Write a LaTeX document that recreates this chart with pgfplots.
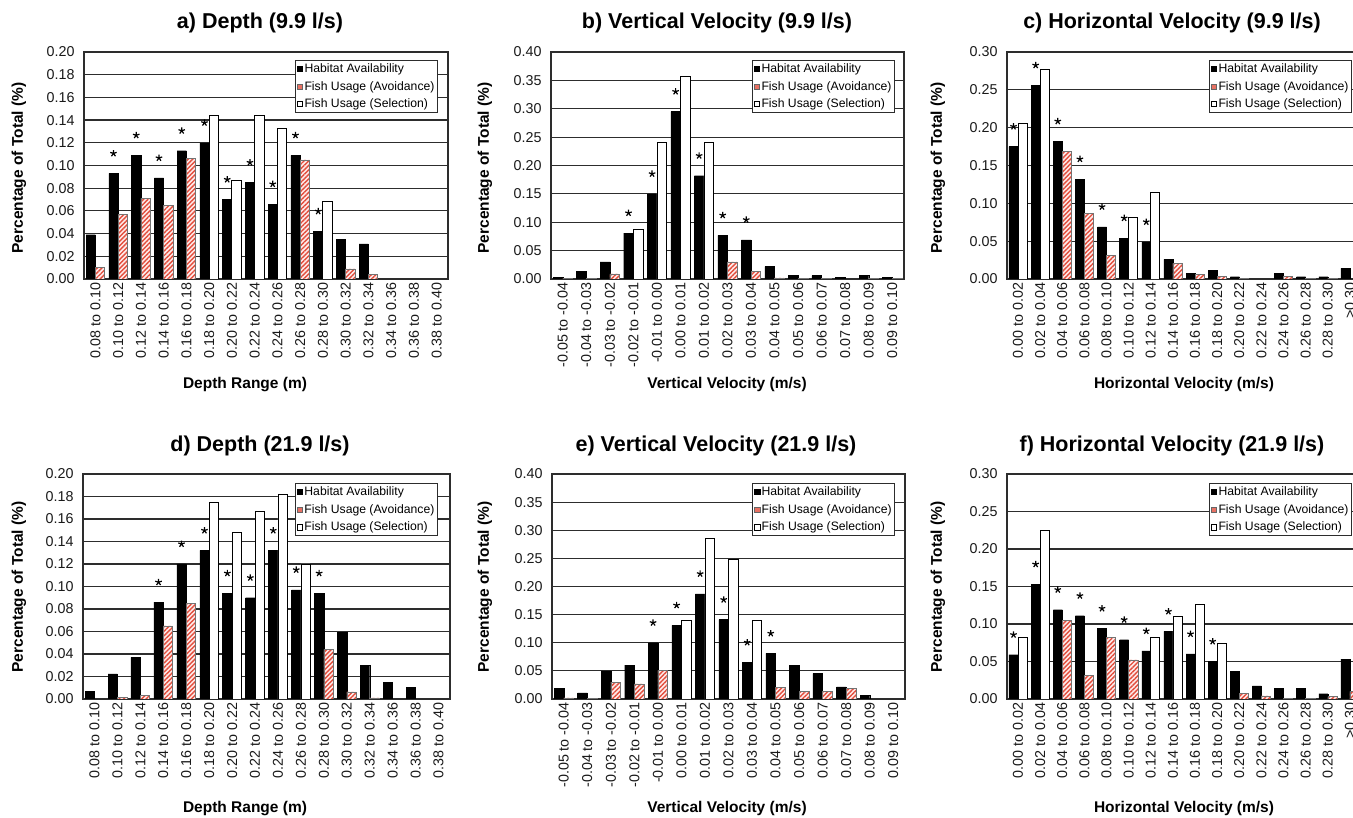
\documentclass[border=0pt]{standalone}
\usepackage{pgfplots}
\pgfplotsset{compat=1.18}
\usepackage{fontspec}
\setmainfont{Liberation Sans}
\usetikzlibrary{patterns.meta}
\definecolor{myred}{RGB}{226,78,60}
\definecolor{gridc}{RGB}{45,45,45}
\newcommand{\tf}{\fontsize{21.5}{24}\selectfont\bfseries}
\newcommand{\lf}{\fontsize{15.5}{18}\selectfont\bfseries}
\pgfplotsset{
  panel/.style={
    scale only axis, anchor=south west, ymin=0,
    axis line style={draw=gridc, line width=1.2pt},
    ymajorgrids, major grid style={draw=gridc, line width=1.2pt},
    tick style={draw=none},
    yticklabel style={font=\fontsize{14.3}{14}\selectfont, xshift=-6pt, text=black!90},
    xticklabel style={font=\fontsize{14.3}{14}\selectfont, rotate=90, anchor=east, text=black!90},
    legend image code/.code={\draw[##1, line width=0.6pt] (0pt,-2.6pt) rectangle (5.2pt,2.6pt);},
    legend style={font=\fontsize{12.2}{14}\selectfont, draw=gridc, line width=1pt, fill=white,
      anchor=north east, inner xsep=1.5pt, inner ysep=2pt, row sep=4.2pt,
      nodes={inner sep=1.5pt}, cells={anchor=west}},
  },
  blackbar/.style={ybar, bar width=0.41, bar shift=-0.205, fill=black, draw=black, line width=0.4pt, forget plot},
  redbar/.style={ybar, bar width=0.41, bar shift=0.205, fill=red!8, draw=black!55, line width=0.5pt, forget plot,
    postaction={pattern={Lines[angle=45,distance=3.2pt,line width=1.4pt]}, pattern color=myred}},
  whitebar/.style={ybar, bar width=0.41, bar shift=0.205, fill=white, draw=black, line width=0.8pt, forget plot},
  stars/.style={only marks, mark=star, mark size=3.4pt, line width=1.2pt, black, forget plot,
    mark options={yshift=20pt}, x filter/.expression={x-0.205}},
  legs/.code={
    \addlegendimage{fill=black, draw=black}\addlegendentry{Habitat Availability}
    \addlegendimage{fill=myred!80, draw=black!60}\addlegendentry{Fish Usage (Avoidance)}
    \addlegendimage{fill=white, draw=black}\addlegendentry{Fish Usage (Selection)}
  },
}
\def\depthlabels{0.08 to 0.10,0.10 to 0.12,0.12 to 0.14,0.14 to 0.16,0.16 to 0.18,0.18 to 0.20,0.20 to 0.22,0.22 to 0.24,0.24 to 0.26,0.26 to 0.28,0.28 to 0.30,0.30 to 0.32,0.32 to 0.34,0.34 to 0.36,0.36 to 0.38,0.38 to 0.40}
\def\vertlabels{-0.05 to -0.04,-0.04 to -0.03,-0.03 to -0.02,-0.02 to -0.01,-0.01 to 0.00,0.00 to 0.01,0.01 to 0.02,0.02 to 0.03,0.03 to 0.04,0.04 to 0.05,0.05 to 0.06,0.06 to 0.07,0.07 to 0.08,0.08 to 0.09,0.09 to 0.10}
\def\horlabels{0.00 to 0.02,0.02 to 0.04,0.04 to 0.06,0.06 to 0.08,0.08 to 0.10,0.10 to 0.12,0.12 to 0.14,0.14 to 0.16,0.16 to 0.18,0.18 to 0.20,0.20 to 0.22,0.22 to 0.24,0.24 to 0.26,0.26 to 0.28,0.28 to 0.30,>0.30}
\begin{document}
\begin{tikzpicture}
\useasboundingbox (0,0) rectangle (1353pt,818pt);
\clip (0,0) rectangle (1353pt,818pt);

% ---------- a) Depth 9.9
\begin{axis}[panel, at={(84pt,539pt)}, width=364pt, height=227pt,
  xmin=-0.5, xmax=15.5, ymax=0.20,
  ytick={0,0.02,0.04,0.06,0.08,0.10,0.12,0.14,0.16,0.18,0.20},
  yticklabels={0.00,0.02,0.04,0.06,0.08,0.10,0.12,0.14,0.16,0.18,0.20},
  xtick={0,...,15}, xticklabels/.expand once=\depthlabels,
  legend style={at={(0.9725,0.965)}}]
\pgfplotsset{legs}
\addplot[blackbar] coordinates {(0,0.039)(1,0.093)(2,0.109)(3,0.089)(4,0.113)(5,0.120)(6,0.070)(7,0.085)(8,0.066)(9,0.109)(10,0.042)(11,0.035)(12,0.031)};
\addplot[redbar] coordinates {(0,0.010)(1,0.057)(2,0.071)(3,0.065)(4,0.106)(9,0.105)(11,0.009)(12,0.004)};
\addplot[whitebar] coordinates {(5,0.144)(6,0.087)(7,0.144)(8,0.133)(10,0.068)};
\addplot[stars] coordinates {(1,0.093)(2,0.109)(3,0.089)(4,0.113)(5,0.120)(6,0.070)(7,0.085)(8,0.066)(9,0.109)(10,0.042)};
\end{axis}

% ---------- b) Vertical 9.9
\begin{axis}[panel, at={(551pt,539pt)}, width=353pt, height=227pt,
  xmin=-0.5, xmax=14.5, ymax=0.40,
  ytick={0,0.05,0.10,0.15,0.20,0.25,0.30,0.35,0.40},
  yticklabels={0.00,0.05,0.10,0.15,0.20,0.25,0.30,0.35,0.40},
  xtick={0,...,14}, xticklabels/.expand once=\vertlabels,
  legend style={at={(0.9745,0.965)}}]
\pgfplotsset{legs}
\addplot[blackbar] coordinates {(0,0.003)(1,0.014)(2,0.030)(3,0.081)(4,0.150)(5,0.295)(6,0.182)(7,0.077)(8,0.069)(9,0.022)(10,0.006)(11,0.006)(12,0.003)(13,0.007)(14,0.003)};
\addplot[redbar] coordinates {(0,0.001)(1,0.001)(2,0.009)(7,0.030)(8,0.013)(9,0.002)(10,0.001)(11,0.001)(13,0.001)(14,0.001)};
\addplot[whitebar] coordinates {(3,0.088)(4,0.241)(5,0.357)(6,0.241)};
\addplot[stars] coordinates {(3,0.081)(4,0.150)(5,0.295)(6,0.182)(7,0.077)(8,0.069)};
\end{axis}

% ---------- c) Horizontal 9.9
\begin{axis}[panel, at={(1007pt,539pt)}, width=354pt, height=227pt,
  xmin=-0.5, xmax=15.5, ymax=0.30,
  ytick={0,0.05,0.10,0.15,0.20,0.25,0.30},
  yticklabels={0.00,0.05,0.10,0.15,0.20,0.25,0.30},
  xtick={0,...,15}, xticklabels/.expand once=\horlabels,
  legend style={at={(0.9746,0.965)}}]
\pgfplotsset{legs}
\addplot[blackbar] coordinates {(0,0.175)(1,0.256)(2,0.182)(3,0.132)(4,0.069)(5,0.054)(6,0.049)(7,0.026)(8,0.007)(9,0.011)(10,0.003)(12,0.007)(13,0.003)(14,0.003)(15,0.014)};
\addplot[redbar] coordinates {(2,0.169)(3,0.0865)(4,0.031)(7,0.021)(8,0.006)(9,0.003)(10,0.001)(12,0.003)(13,0.001)(14,0.001)};
\addplot[whitebar] coordinates {(0,0.205)(1,0.277)(5,0.081)(6,0.114)};
\addplot[stars] coordinates {(0,0.175)(1,0.256)(2,0.182)(3,0.132)(4,0.069)(5,0.054)(6,0.049)};
\end{axis}

% ---------- d) Depth 21.9
\begin{axis}[panel, at={(83pt,119pt)}, width=367pt, height=225pt,
  xmin=-0.5, xmax=15.5, ymax=0.20,
  ytick={0,0.02,0.04,0.06,0.08,0.10,0.12,0.14,0.16,0.18,0.20},
  yticklabels={0.00,0.02,0.04,0.06,0.08,0.10,0.12,0.14,0.16,0.18,0.20},
  xtick={0,...,15}, xticklabels/.expand once=\depthlabels,
  legend style={at={(0.967,0.96)}}]
\pgfplotsset{legs}
\addplot[blackbar] coordinates {(0,0.007)(1,0.0224)(2,0.037)(3,0.086)(4,0.120)(5,0.132)(6,0.094)(7,0.090)(8,0.132)(9,0.097)(10,0.094)(11,0.059)(12,0.030)(13,0.015)(14,0.0105)};
\addplot[redbar] coordinates {(1,0.0015)(2,0.003)(3,0.065)(4,0.085)(10,0.044)(11,0.0063)(12,0.001)};
\addplot[whitebar] coordinates {(5,0.175)(6,0.148)(7,0.167)(8,0.182)(9,0.120)};
\addplot[stars] coordinates {(3,0.086)(4,0.120)(5,0.132)(6,0.094)(7,0.090)(8,0.132)(9,0.097)(10,0.094)};
\end{axis}

% ---------- e) Vertical 21.9
\begin{axis}[panel, at={(552pt,119pt)}, width=353pt, height=225pt,
  xmin=-0.5, xmax=14.5, ymax=0.40,
  ytick={0,0.05,0.10,0.15,0.20,0.25,0.30,0.35,0.40},
  yticklabels={0.00,0.05,0.10,0.15,0.20,0.25,0.30,0.35,0.40},
  xtick={0,...,14}, xticklabels/.expand once=\vertlabels,
  legend style={at={(0.972,0.96)}}]
\pgfplotsset{legs}
\addplot[blackbar] coordinates {(0,0.019)(1,0.011)(2,0.050)(3,0.060)(4,0.100)(5,0.131)(6,0.187)(7,0.141)(8,0.065)(9,0.081)(10,0.060)(11,0.045)(12,0.0215)(13,0.006)};
\addplot[redbar] coordinates {(0,0.002)(1,0.001)(2,0.030)(3,0.027)(4,0.051)(9,0.021)(10,0.014)(11,0.014)(12,0.019)};
\addplot[whitebar] coordinates {(5,0.140)(6,0.286)(7,0.248)(8,0.139)};
\addplot[stars] coordinates {(4,0.100)(5,0.131)(6,0.187)(7,0.141)(8,0.065)(9,0.081)};
\end{axis}

% ---------- f) Horizontal 21.9
\begin{axis}[panel, at={(1007pt,119pt)}, width=354pt, height=225pt,
  xmin=-0.5, xmax=15.5, ymax=0.30,
  ytick={0,0.05,0.10,0.15,0.20,0.25,0.30},
  yticklabels={0.00,0.05,0.10,0.15,0.20,0.25,0.30},
  xtick={0,...,15}, xticklabels/.expand once=\horlabels,
  legend style={at={(0.9746,0.96)}}]
\pgfplotsset{legs}
\addplot[blackbar] coordinates {(0,0.059)(1,0.153)(2,0.119)(3,0.111)(4,0.094)(5,0.079)(6,0.064)(7,0.090)(8,0.060)(9,0.050)(10,0.037)(11,0.0175)(12,0.0145)(13,0.0145)(14,0.007)(15,0.053)};
\addplot[redbar] coordinates {(2,0.105)(3,0.031)(4,0.082)(5,0.052)(10,0.0075)(11,0.004)(12,0.001)(13,0.001)(14,0.003)(15,0.010)};
\addplot[whitebar] coordinates {(0,0.082)(1,0.225)(6,0.0825)(7,0.110)(8,0.126)(9,0.0745)};
\addplot[stars] coordinates {(0,0.059)(1,0.153)(2,0.119)(3,0.111)(4,0.094)(5,0.079)(6,0.064)(7,0.090)(8,0.060)(9,0.050)};
\end{axis}

% ---------- titles and axis labels
\node[font=\tf, anchor=base] at (260pt,789pt) {a) Depth (9.9 l/s)};
\node[font=\tf, anchor=base] at (717pt,789pt) {b) Vertical Velocity (9.9 l/s)};
\node[font=\tf, anchor=base] at (1172pt,789pt) {c) Horizontal Velocity (9.9 l/s)};
\node[font=\tf, anchor=base] at (260pt,366pt) {d) Depth (21.9 l/s)};
\node[font=\tf, anchor=base] at (716pt,366pt) {e) Vertical Velocity (21.9 l/s)};
\node[font=\tf, anchor=base] at (1172pt,366pt) {f) Horizontal Velocity (21.9 l/s)};

\node[font=\lf, rotate=90] at (19pt,650pt) {Percentage of Total (\%)};
\node[font=\lf, rotate=90] at (485pt,650pt) {Percentage of Total (\%)};
\node[font=\lf, rotate=90] at (938pt,650pt) {Percentage of Total (\%)};
\node[font=\lf, rotate=90] at (19pt,231pt) {Percentage of Total (\%)};
\node[font=\lf, rotate=90] at (485pt,231pt) {Percentage of Total (\%)};
\node[font=\lf, rotate=90] at (938pt,231pt) {Percentage of Total (\%)};

\node[font=\lf, anchor=base] at (245pt,429pt) {Depth Range (m)};
\node[font=\lf, anchor=base] at (727pt,429pt) {Vertical Velocity (m/s)};
\node[font=\lf, anchor=base] at (1184pt,429pt) {Horizontal Velocity (m/s)};
\node[font=\lf, anchor=base] at (245pt,5pt) {Depth Range (m)};
\node[font=\lf, anchor=base] at (727pt,5pt) {Vertical Velocity (m/s)};
\node[font=\lf, anchor=base] at (1184pt,5pt) {Horizontal Velocity (m/s)};
\end{tikzpicture}
\end{document}
